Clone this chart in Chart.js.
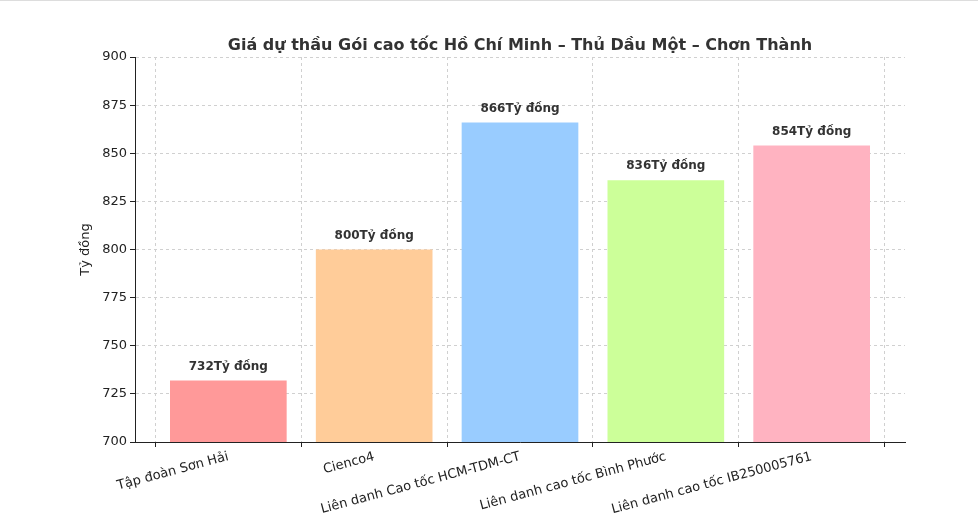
<!DOCTYPE html>
<html>
<head>
<meta charset="utf-8">
<script src="https://cdn.jsdelivr.net/npm/chart.js@4/dist/chart.umd.min.js"></script>
<style>
  html, body { margin: 0; padding: 0; background: #fff; }
  #wrap { width: 978px; height: 529px; position: relative; border-top: 1px solid #ddd; box-sizing: border-box; }
</style>
</head>
<body>
<div id="wrap"><canvas id="chart"></canvas></div>
<script>
// Chart data
const categories = ['Tập đoàn Sơn Hải', 'Cienco4', 'Liên danh Cao tốc HCM-TDM-CT', 'Liên danh cao tốc Bình Phước', 'Liên danh cao tốc IB250005761'];
const bidValues = [732, 800, 866, 836, 854];
const barColors = ['#ff9999', '#ffcc99', '#99ccff', '#ccff99', '#ffb3c1'];
const yTicks = [700, 725, 750, 775, 800, 825, 850, 875, 900];
const unitLabel = 'Tỷ đồng';
const chartTitle = 'Giá dự thầu Gói cao tốc Hồ Chí Minh – Thủ Dầu Một – Chơn Thành';

const FONT = 'DejaVu Sans';

// Title and value labels drawn on canvas
const annotatePlugin = {
    id: 'annotate',
    afterDatasetsDraw(chart) {
        const ctx = chart.ctx;
        const area = chart.chartArea;
        ctx.save();
        ctx.fillStyle = '#333';
        ctx.font = 'bold 16px ' + FONT;
        ctx.textAlign = 'center';
        ctx.textBaseline = 'alphabetic';
        ctx.fillText(chartTitle, (area.left + area.right) / 2, 49);

        ctx.font = 'bold 12px ' + FONT;
        ctx.textBaseline = 'bottom';
        chart.getDatasetMeta(0).data.forEach((bar, i) => {
            ctx.fillText(bidValues[i] + unitLabel, bar.x, bar.y - 8);
        });
        ctx.restore();
    }
};

new Chart(document.getElementById('chart'), {
    type: 'bar',
    data: {
        datasets: [{
            data: bidValues.map((v, i) => ({ x: i, y: v })),
            backgroundColor: barColors,
            barPercentage: 0.8,
            categoryPercentage: 1
        }]
    },
    options: {
        responsive: true,
        maintainAspectRatio: false,
        animation: false,
        layout: { padding: { top: 56, right: 73, left: 78, bottom: 0 } },
        plugins: { legend: { display: false }, tooltip: { enabled: false } },
        scales: {
            x: {
                type: 'linear',
                offset: false,
                min: -0.64,
                max: 4.64,
                afterBuildTicks(axis) { axis.ticks = categories.map((c, i) => ({ value: i })); },
                afterFit(axis) { axis.height = 87; },
                ticks: {
                    autoSkip: false,
                    minRotation: 15,
                    maxRotation: 15,
                    padding: 2,
                    color: '#222',
                    font: { family: FONT, size: 13 },
                    callback: (v) => categories[v] ?? ''
                },
                grid: { color: '#d0d0d0', tickColor: '#222', tickLength: 5 },
                border: { color: '#222', dash: [3, 3] }
            },
            y: {
                min: 700,
                max: 900,
                afterBuildTicks(axis) { axis.ticks = yTicks.map(v => ({ value: v })); },
                afterFit(axis) { axis.width = 57; },
                ticks: { color: '#222', padding: 3, font: { family: FONT, size: 13 } },
                grid: { color: '#d0d0d0', tickColor: '#222', tickLength: 5 },
                border: { color: '#222', dash: [3, 3] },
                title: { display: true, text: unitLabel, color: '#222', padding: 0, font: { family: FONT, size: 13 } }
            }
        }
    },
    plugins: [annotatePlugin]
});
</script>
</body>
</html>
